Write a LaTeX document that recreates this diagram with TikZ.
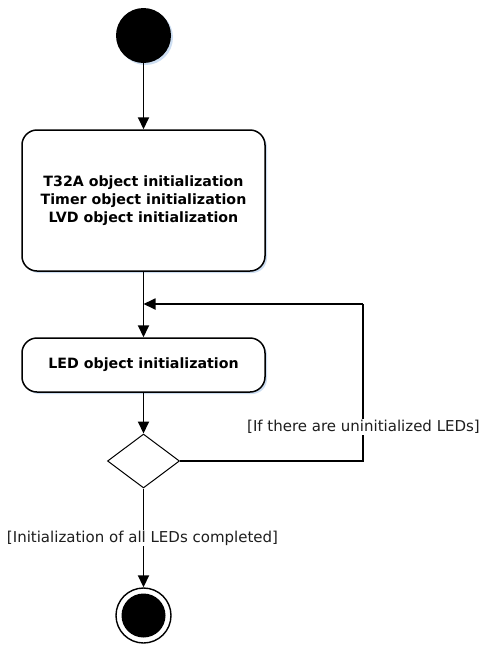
\documentclass[tikz,border=0pt]{standalone}
\usepackage{fontspec}
\setmainfont{DejaVu Sans}
\usetikzlibrary{arrows.meta,shapes.geometric}
\definecolor{shadowblue}{RGB}{205,222,242}
\definecolor{guardtext}{RGB}{30,30,30}
\begin{document}
\begin{tikzpicture}[x=1pt,y=-1pt,
  flow/.style={line width=1.8pt,-{Triangle[length=12pt,width=11pt]}},
  plain/.style={line width=1.8pt},
  actbox/.style={draw,line width=1.5pt,rounded corners=15pt,minimum width=243pt,align=center,inner sep=0pt,
    font=\bfseries\fontsize{14.2}{18}\selectfont},
  guard/.style={fill=white,inner sep=1pt,text=guardtext,font=\fontsize{15}{17}\selectfont}]
\useasboundingbox (0,0) rectangle (480,646);
% shadows
\fill[shadowblue] (145.5,37.5) circle (27.5pt);
\fill[shadowblue,rounded corners=15pt] (24,132) rectangle (267,273);
\fill[shadowblue,rounded corners=15pt] (24,340) rectangle (267,394);
% nodes
\node[circle,fill=black,minimum size=55pt,inner sep=0pt] (start) at (143.5,35.5) {};
\node[actbox,fill=white,minimum height=141pt] (init) at (143.5,200.5)
  {T32A object initialization\\Timer object initialization\\LVD object initialization};
\node[actbox,fill=white,minimum height=54pt] (led) at (143.5,365) {LED object initialization};
\node[diamond,draw,line width=1pt,fill=white,minimum width=72pt,minimum height=54pt,inner sep=0pt] (dec) at (143.5,461) {};
\node[circle,draw,line width=1.4pt,fill=white,minimum size=55pt,inner sep=0pt] (end) at (143.5,615.5) {};
\node[circle,fill=black,minimum size=44pt,inner sep=0pt] (endin) at (end.center) {};
% connectors
\coordinate (c1) at (363,461);
\coordinate (c2) at (363,304);
\coordinate (merge) at (143.5,304);
\draw[flow] (start) -- (init);
\draw[flow] (init) -- (led);
\draw[flow] (led) -- (dec);
\draw[plain] (dec.east) -- (c1) -- (c2);
\draw[flow] (c2) -- (merge);
\draw[flow] (dec) -- (end);
% guards
\node[guard] (g1) at (363.5,427) {[If there are uninitialized LEDs]};
\node[guard] (g2) at (142.5,538) {[Initialization of all LEDs completed]};
\end{tikzpicture}
\end{document}
